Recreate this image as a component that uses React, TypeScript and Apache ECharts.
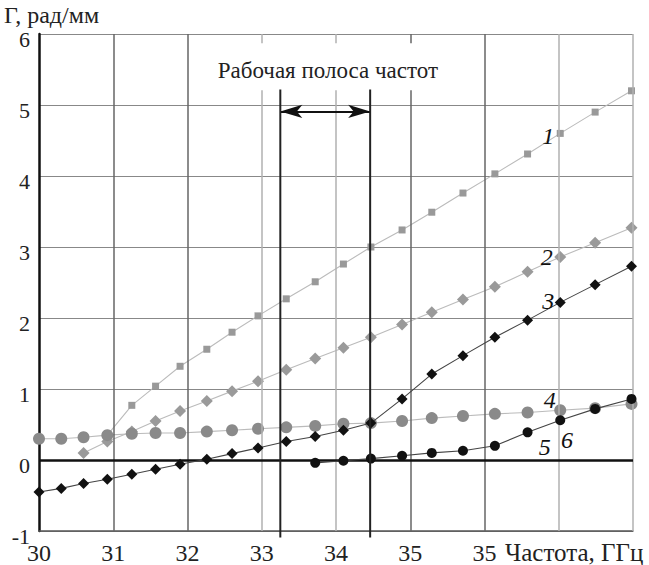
import React, { useEffect, useRef } from "react";
import * as echarts from "echarts";

const freq = [30, 30.3, 30.6, 30.92, 31.25, 31.57, 31.9, 32.26, 32.6, 32.95, 33.33, 33.72, 34.1, 34.47, 34.89, 35.29, 35.71, 36.14, 36.58, 37.02, 37.49, 37.98];
const curve1 = [null, null, null, 0.35, 0.77, 1.04, 1.32, 1.56, 1.8, 2.03, 2.27, 2.51, 2.76, 3.0, 3.24, 3.49, 3.76, 4.03, 4.31, 4.6, 4.9, 5.2];
const curve2 = [null, null, 0.1, 0.26, 0.4, 0.55, 0.69, 0.83, 0.97, 1.11, 1.27, 1.43, 1.58, 1.73, 1.91, 2.08, 2.26, 2.44, 2.65, 2.86, 3.06, 3.27];
const curve3 = [-0.45, -0.4, -0.33, -0.27, -0.2, -0.13, -0.06, 0.01, 0.09, 0.17, 0.26, 0.33, 0.42, 0.52, 0.86, 1.21, 1.47, 1.73, 1.97, 2.22, 2.47, 2.73];
const curve4 = [0.3, 0.3, 0.32, 0.35, 0.37, 0.38, 0.38, 0.4, 0.42, 0.44, 0.46, 0.48, 0.51, 0.52, 0.55, 0.59, 0.62, 0.65, 0.67, 0.7, 0.73, 0.79];
const curve5 = [null, null, null, null, null, null, null, null, null, null, null, -0.04, -0.01, 0.02, 0.06, 0.1, 0.13, 0.2, 0.39, 0.56, 0.72, 0.86];

const xTickLabels = ["30", "31", "32", "33", "34", "35", "35", "", ""];
const xGridValues = [31, 32, 33, 34, 35, 36, 37, 38];
const darkGridValues = [31, 32, 35, 36];
const bandEdges = [33.25, 34.46];
const bandArrowY = 4.91;
const bandTop = 5.22;
const bandLabel = "Рабочая полоса частот";
const bandLabelPos = [33.89, 5.49];
const curveLabels = [
  { text: "1", x: 36.86, y: 4.57 },
  { text: "2", x: 36.84, y: 2.86 },
  { text: "3", x: 36.86, y: 2.24 },
  { text: "4", x: 36.88, y: 0.85 },
  { text: "5", x: 36.81, y: 0.18 },
  { text: "6", x: 37.11, y: 0.28 },
];
const xAxisTitle = "Частота, ГГц";
const yAxisTitle = "Г, рад/мм";

const SERIF = "Liberation Serif";

const pairs = (ys: (number | null)[]) =>
  freq.map((x, i) => [x, ys[i]]).filter((p) => p[1] !== null);

export default function App() {
  const ref = useRef<HTMLDivElement>(null);
  useEffect(() => {
    if (!ref.current) return;
    const chart = echarts.init(ref.current, null, { renderer: "svg" });
    const lineSeries = (
      name: string,
      ys: (number | null)[],
      lineColor: string,
      markColor: string,
      symbol: string,
      size: number,
      z: number
    ) => ({
      name,
      type: "line",
      data: pairs(ys),
      symbol,
      symbolSize: size,
      showSymbol: true,
      z,
      lineStyle: { color: lineColor, width: 1.1 },
      itemStyle: { color: markColor, borderWidth: 0 },
    });
    const option: any = {
      animation: false,
      backgroundColor: "#fff",
      textStyle: { fontFamily: SERIF },
      grid: { left: 39, right: 16, top: 34, bottom: 34 },
      xAxis: {
        type: "value",
        min: 30,
        max: 38,
        interval: 1,
        axisLine: { show: true, onZero: false, lineStyle: { color: "#555", width: 1.5 } },
        axisTick: { show: false },
        splitLine: { show: false },
        axisLabel: {
          fontFamily: SERIF,
          fontSize: 24,
          color: "#222",
          margin: 10,
          formatter: (v: number) => xTickLabels[Math.round(v - 30)] ?? "",
        },
      },
      yAxis: {
        type: "value",
        min: -1,
        max: 6,
        interval: 1,
        axisLine: { show: true, onZero: false, lineStyle: { color: "#111", width: 2.5 } },
        axisTick: { show: false },
        splitLine: { show: true, lineStyle: { color: "#888", width: 1.2 } },
        axisLabel: {
          fontFamily: SERIF,
          fontSize: 22,
          color: "#222",
          margin: 9,
          verticalAlign: "top",
          lineHeight: 10,
        },
      },
      series: [
        {
          type: "line",
          data: [],
          z: 1,
          markLine: {
            silent: true,
            symbol: "none",
            label: { show: false },
            data: [
              ...xGridValues.map((v) => ({
                xAxis: v,
                lineStyle: {
                  type: "solid",
                  color: darkGridValues.includes(v) ? "#666" : "#b0b0b0",
                  width: 1.5,
                },
              })),
              { yAxis: 0, lineStyle: { type: "solid", color: "#111", width: 2.5 } },
            ],
          },
        },
        {
          type: "line",
          data: [],
          z: 1,
          markLine: {
            silent: true,
            label: { show: false },
            symbolSize: [10, 22],
            data: [
              [
                { coord: [bandEdges[0], bandArrowY], symbol: "arrow" },
                { coord: [bandEdges[1], bandArrowY], symbol: "arrow" },
              ],
            ],
            lineStyle: { type: "solid", color: "#111", width: 2 },
          },
        },
        lineSeries("1", curve1, "#bbb", "#999", "rect", 7, 3),
        lineSeries("2", curve2, "#bbb", "#9a9a9a", "diamond", 12, 3),
        lineSeries("4", curve4, "#bbb", "#8a8a8a", "circle", 12, 4),
        lineSeries("3", curve3, "#444", "#111", "diamond", 11, 5),
        lineSeries("5", curve5, "#444", "#111", "circle", 10, 5),
      ],
    };
    chart.setOption(option);

    const px = (x: number, y: number) =>
      chart.convertToPixel({ xAxisIndex: 0, yAxisIndex: 0 } as any, [x, y]) as number[];

    const lp = px(bandLabelPos[0], bandLabelPos[1]);
    const l0top = px(bandEdges[0], bandTop);
    const l0bot = px(bandEdges[0], -1.09);
    const l1top = px(bandEdges[1], bandTop);
    const l1bot = px(bandEdges[1], -1.09);
    const axisBottom = px(30, -1);
    const graphic: any[] = [
      {
        type: "rect",
        shape: { x: lp[0] - 130, y: lp[1] - 27, width: 260, height: 47 },
        style: { fill: "#fff" },
        z: 50,
      },
      {
        type: "text",
        x: lp[0],
        y: lp[1],
        style: {
          text: bandLabel,
          font: `23px ${SERIF}`,
          fill: "#222",
          align: "center",
          verticalAlign: "middle",
        },
        z: 51,
      },
      {
        type: "line",
        shape: { x1: l0top[0], y1: l0top[1], x2: l0bot[0], y2: l0bot[1] },
        style: { stroke: "#222", lineWidth: 2 },
        z: 52,
      },
      {
        type: "line",
        shape: { x1: l1top[0], y1: l1top[1], x2: l1bot[0], y2: l1bot[1] },
        style: { stroke: "#222", lineWidth: 2 },
        z: 52,
      },
      {
        type: "text",
        x: 4,
        y: 15,
        style: {
          text: yAxisTitle,
          font: `24px ${SERIF}`,
          fill: "#222",
          align: "left",
          verticalAlign: "middle",
        },
        z: 51,
      },
      {
        type: "text",
        x: 505,
        y: axisBottom[1] + 21,
        style: {
          text: xAxisTitle,
          font: `25px ${SERIF}`,
          fill: "#222",
          align: "left",
          verticalAlign: "middle",
        },
        z: 51,
      },
      ...curveLabels.map((c) => {
        const p = px(c.x, c.y);
        return {
          type: "text",
          x: p[0],
          y: p[1],
          style: {
            text: c.text,
            font: `italic 24px ${SERIF}`,
            fill: "#111",
            align: "center",
            verticalAlign: "middle",
          },
          z: 51,
        };
      }),
    ];
    chart.setOption({ graphic });
    return () => chart.dispose();
  }, []);
  return (
    <div
      ref={ref}
      style={{ position: "absolute", left: 0, top: 0, width: 649, height: 565 }}
    />
  );
}
